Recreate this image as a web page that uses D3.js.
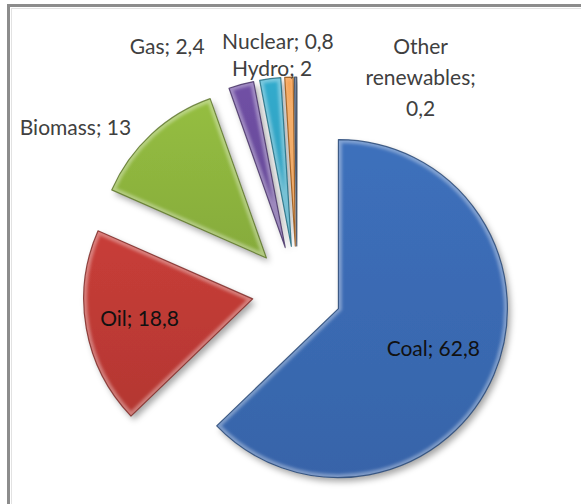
<!DOCTYPE html>
<html><head><meta charset="utf-8">
<script src="https://cdn.jsdelivr.net/npm/d3@7"></script>
<style>body{margin:0;background:#fff;} svg{display:block}</style>
</head><body>
<svg id="c" width="581" height="504"></svg>
<script>
// ---- data ----
const categories = ["Coal", "Oil", "Biomass", "Gas", "Hydro", "Nuclear", "Other renewables"];
const values = [62.8, 18.8, 13, 2.4, 2, 0.8, 0.2];
const valueLabels = ["62,8", "18,8", "13", "2,4", "2", "0,8", "0,2"];

// ---- style / layout ----
const colors = ["#3A6AB2", "#BE3A35", "#8DB43E", "#6A4C9C", "#2FA2C2", "#E8801E", "#4B6389"];
const W = 581, H = 504;
const cx = 297, cy = 291, R = 169, explode = 45;
const labelLayout = [
  {inside: 0.61}, {inside: 0.68},
  {dx: -76, dy: -6}, {dx: -74, dy: -38}, {dx: 2, dy: -10}, {dx: -11, dy: -36},
  {dx: 125, dy: 1, wrap: true}
];
const fontSize = 21, lineH = 31;

const svg = d3.select("#c");
const defs = svg.append("defs");
const shadow = defs.append("filter").attr("id", "sh").attr("x", "-20%").attr("y", "-20%").attr("width", "140%").attr("height", "140%");
shadow.append("feDropShadow").attr("dx", 3).attr("dy", 4).attr("stdDeviation", 3).attr("flood-color", "#000").attr("flood-opacity", 0.35);
const blur = defs.append("filter").attr("id", "bl");
blur.append("feGaussianBlur").attr("stdDeviation", 1.6);

// frame
svg.append("line").attr("x1", 8.5).attr("x2", 8.5).attr("y1", 4).attr("y2", H).attr("stroke", "#8c8c8c").attr("stroke-width", 3);
svg.append("line").attr("x1", 7).attr("x2", W).attr("y1", 5.5).attr("y2", 5.5).attr("stroke", "#8c8c8c").attr("stroke-width", 3);
svg.append("line").attr("x1", 11.5).attr("x2", 11.5).attr("y1", 8).attr("y2", H).attr("stroke", "#e2e2e2").attr("stroke-width", 1);
svg.append("line").attr("x1", 11).attr("x2", W).attr("y1", 8.5).attr("y2", 8.5).attr("stroke", "#e2e2e2").attr("stroke-width", 1);

const pie = d3.pie().sort(null).value(d => d)(values);
const arc = d3.arc().innerRadius(0).outerRadius(R);
const mid = d => (d.startAngle + d.endAngle) / 2;
const dir = d => [Math.sin(mid(d)), -Math.cos(mid(d))];

const g = svg.append("g").attr("transform", `translate(${cx},${cy})`);
const slices = g.selectAll("g.s").data(pie).enter().append("g")
  .attr("class", "s")
  .attr("transform", d => { const [x, y] = dir(d); return `translate(${x * explode},${y * explode})`; });

slices.each(function(d, i) {
  const s = d3.select(this);
  const p = arc(d);
  const base = d3.color(colors[i]);
  s.append("clipPath").attr("id", "cp" + i).append("path").attr("d", p);
  const gid = "gr" + i;
  const lg = defs.append("linearGradient").attr("id", gid).attr("x1", 0).attr("y1", 0).attr("x2", 0).attr("y2", 1);
  lg.append("stop").attr("offset", 0).attr("stop-color", base.brighter(0.15));
  lg.append("stop").attr("offset", 1).attr("stop-color", base.darker(0.15));
  s.append("path").attr("d", p).attr("fill", `url(#${gid})`).attr("filter", "url(#sh)");
  s.append("path").attr("d", p).attr("fill", "none")
    .attr("stroke", "#fff").attr("stroke-opacity", 0.35).attr("stroke-width", 7)
    .attr("clip-path", `url(#cp${i})`).attr("filter", "url(#bl)");
  s.append("path").attr("d", p).attr("fill", "none")
    .attr("stroke", base.darker(1.3)).attr("stroke-opacity", 0.8).attr("stroke-width", 1.2)
    .attr("stroke-linejoin", "round");
});

// labels
pie.forEach((d, i) => {
  const L = labelLayout[i];
  const [ux, uy] = dir(d);
  const ax = cx + ux * explode, ay = cy + uy * explode;
  let x, y;
  if (L.inside !== undefined) { x = ax + ux * R * L.inside; y = ay + uy * R * L.inside; }
  else { x = ax + ux * R + L.dx; y = ay + uy * R + L.dy; }
  let lines;
  if (L.wrap) {
    const w = categories[i].split(" ");
    lines = [...w.slice(0, -1), w[w.length - 1] + ";", valueLabels[i]];
  } else lines = [categories[i] + "; " + valueLabels[i]];
  const t = svg.append("text")
    .attr("text-anchor", "middle")
    .attr("font-family", "Lato, 'Open Sans', sans-serif")
    .attr("font-size", fontSize)
    .attr("fill", L.inside !== undefined ? "#111" : "#404040");
  const y0 = y - (lines.length - 1) * lineH / 2;
  lines.forEach((ln, k) => t.append("tspan").attr("x", x).attr("y", y0 + k * lineH).attr("dy", "0.35em").text(ln));
});
</script>
</body></html>
